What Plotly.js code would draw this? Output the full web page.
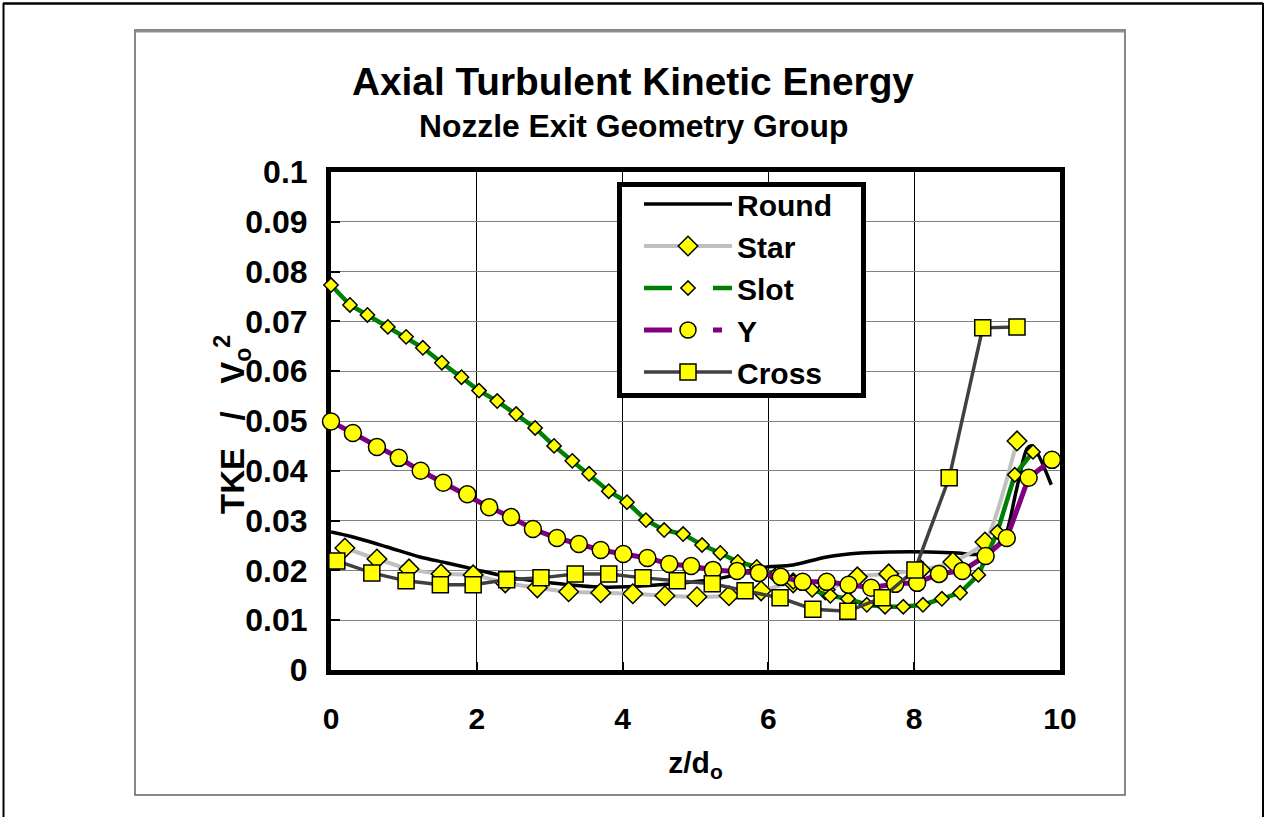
<!DOCTYPE html>
<html>
<head>
<meta charset="utf-8">
<script src="https://cdn.plot.ly/plotly-3.0.1.min.js"></script>
<style>
  html, body { margin: 0; padding: 0; background: #ffffff; }
  #chart { width: 1266px; height: 817px; }
</style>
</head>
<body>
<div id="chart"></div>
<script>
// ---- data ----
const roundX = [0, 0.3, 0.77, 1.22, 1.59, 2.0, 2.5, 3.14, 3.6, 4.06, 4.51, 4.97, 5.43, 5.88, 6.34, 6.8, 7.26, 7.7, 8.2, 8.6, 8.85, 9.1, 9.25, 9.4, 9.55, 9.62, 9.88];
const roundY = [0.0277, 0.0267, 0.0247, 0.0227, 0.0215, 0.0201, 0.0185, 0.0173, 0.0167, 0.0167, 0.0171, 0.0177, 0.0187, 0.0205, 0.0211, 0.0227, 0.0235, 0.0237, 0.0237, 0.0235, 0.0232, 0.0245, 0.0270, 0.0360, 0.0445, 0.0450, 0.0372];

const starX = [0.19, 0.63, 1.07, 1.51, 1.95, 2.39, 2.83, 3.26, 3.70, 4.14, 4.58, 5.02, 5.46, 5.90, 6.34, 6.78, 7.22, 7.65, 8.09, 8.53, 8.97, 9.41];
const starY = [0.0245, 0.0223, 0.0203, 0.0193, 0.0191, 0.0175, 0.0165, 0.0157, 0.0155, 0.0153, 0.0149, 0.0147, 0.0149, 0.0159, 0.0175, 0.0161, 0.0187, 0.0193, 0.0201, 0.0217, 0.0257, 0.0460];

const slotX = [0, 0.26, 0.50, 0.78, 1.03, 1.26, 1.52, 1.79, 2.03, 2.28, 2.54, 2.80, 3.06, 3.31, 3.54, 3.81, 4.06, 4.32, 4.57, 4.83, 5.09, 5.34, 5.58, 5.84, 6.09, 6.34, 6.60, 6.85, 7.09, 7.35, 7.60, 7.85, 8.12, 8.38, 8.63, 8.88, 9.14, 9.38, 9.63];
const slotY = [0.0773, 0.0733, 0.0713, 0.0689, 0.0669, 0.0647, 0.0617, 0.0588, 0.0561, 0.0540, 0.0514, 0.0486, 0.0450, 0.0420, 0.0394, 0.0359, 0.0337, 0.0301, 0.0281, 0.0273, 0.0251, 0.0235, 0.0217, 0.0207, 0.0190, 0.0177, 0.0161, 0.0149, 0.0143, 0.0131, 0.0127, 0.0127, 0.0131, 0.0143, 0.0155, 0.0191, 0.0277, 0.0392, 0.0438];

const yX = [0, 0.30, 0.63, 0.93, 1.23, 1.54, 1.87, 2.17, 2.47, 2.77, 3.10, 3.40, 3.70, 4.01, 4.34, 4.64, 4.94, 5.24, 5.57, 5.87, 6.17, 6.47, 6.80, 7.10, 7.41, 7.74, 8.04, 8.34, 8.66, 8.98, 9.27, 9.57, 9.89];
const yY = [0.0499, 0.0476, 0.0448, 0.0426, 0.0400, 0.0376, 0.0353, 0.0327, 0.0307, 0.0283, 0.0265, 0.0253, 0.0241, 0.0233, 0.0225, 0.0213, 0.0209, 0.0201, 0.0199, 0.0195, 0.0187, 0.0177, 0.0177, 0.0171, 0.0165, 0.0173, 0.0175, 0.0193, 0.0199, 0.0229, 0.0265, 0.0386, 0.0422];

const crossX = [0.08, 0.56, 1.03, 1.50, 1.95, 2.41, 2.88, 3.35, 3.81, 4.28, 4.75, 5.23, 5.68, 6.16, 6.61, 7.09, 7.56, 8.01, 8.48, 8.94, 9.41];
const crossY = [0.0219, 0.0195, 0.0179, 0.0171, 0.0171, 0.0181, 0.0185, 0.0193, 0.0193, 0.0185, 0.0179, 0.0173, 0.0159, 0.0145, 0.0122, 0.0118, 0.0145, 0.0201, 0.0386, 0.0687, 0.0689];

const seriesNames = ['Round', 'Star', 'Slot', 'Y', 'Cross'];
const xTickVals = [0, 2, 4, 6, 8, 10];
const yTickVals = [0, 0.01, 0.02, 0.03, 0.04, 0.05, 0.06, 0.07, 0.08, 0.09, 0.1];
const yTickText = ['0', '0.01', '0.02', '0.03', '0.04', '0.05', '0.06', '0.07', '0.08', '0.09', '0.1'];

// ---- styling ----
const FONT = 'Liberation Sans, Arial, Helvetica, sans-serif';
const YEL = '#ffff00';
const mline = {color: '#000000', width: 1.5};

const styles = [
  {mode: 'lines', line: {color: '#000000', width: 3.5, shape: 'spline', smoothing: 0.8}, legendDash: 'solid'},
  {mode: 'lines+markers', line: {color: '#c0c0c0', width: 4, shape: 'spline', smoothing: 0.6},
   marker: {symbol: 'diamond', size: 15, color: YEL, line: mline}, legendDash: 'solid'},
  {mode: 'lines+markers', line: {color: '#008000', width: 4.5},
   marker: {symbol: 'diamond', size: 11, color: YEL, line: mline}, legendDash: '28px,41px,30px'},
  {mode: 'lines+markers', line: {color: '#800080', width: 5},
   marker: {symbol: 'circle', size: 17, color: YEL, line: mline}, legendDash: '28px,41px,9px,40px'},
  {mode: 'lines+markers', line: {color: '#404040', width: 3.5},
   marker: {symbol: 'square', size: 16, color: YEL, line: mline}, legendDash: 'solid'}
];
const xs = [roundX, starX, slotX, yX, crossX];
const ys = [roundY, starY, slotY, yY, crossY];

const traces = [];
// the data traces (solid lines: in the reference, segments between markers look solid)
xs.forEach((x, i) => {
  const t = {x: x, y: ys[i], name: seriesNames[i], mode: styles[i].mode,
             line: styles[i].line, showlegend: false, cliponaxis: false};
  if (styles[i].marker) t.marker = styles[i].marker;
  traces.push(t);
});
// legend entries (same series; dashed sample lines like the reference legend)
xs.forEach((x, i) => {
  const t = {x: [null], y: [null], name: seriesNames[i], mode: styles[i].mode,
             line: Object.assign({}, styles[i].line, {dash: styles[i].legendDash, shape: 'linear'}),
             showlegend: true, hoverinfo: 'skip'};
  if (styles[i].marker) t.marker = styles[i].marker;
  traces.push(t);
});

// plot area in pixels: x 331..1060, y 172..670
const L = 331, R = 1060, T = 172, B = 670;
const W = R - L, H = B - T;
const px = v => (v - L) / W;
const py = v => (B - v) / H;

const layout = {
  width: 1266, height: 817,
  margin: {l: L, r: 1266 - R, t: T, b: 817 - B, pad: 0},
  paper_bgcolor: '#ffffff', plot_bgcolor: '#ffffff',
  font: {family: FONT, color: '#000000', weight: 'bold'},
  showlegend: true,
  legend: {
    x: px(639), y: py(178), xanchor: 'left', yanchor: 'top',
    bgcolor: 'rgba(0,0,0,0)', borderwidth: 0,
    font: {family: FONT, size: 30, color: '#000000', weight: 'bold'},
    itemwidth: 88, tracegroupgap: 0
  },
  xaxis: {
    range: [0, 10], tickvals: xTickVals, ticktext: xTickVals.map(String),
    showgrid: true, gridcolor: '#000000', gridwidth: 1,
    zeroline: false, showline: true, mirror: true, linecolor: '#000000', linewidth: 5,
    ticks: 'inside', ticklen: 8, tickwidth: 2, tickcolor: '#000000',
    tickfont: {family: FONT, size: 30, color: '#000000', weight: 'bold'},
    ticklabelstandoff: 18, layer: 'below traces',
    title: {text: 'z/d<sub>o</sub>', font: {family: FONT, size: 30, color: '#000000', weight: 'bold'}, standoff: 19}
  },
  yaxis: {
    range: [0, 0.1], tickvals: yTickVals, ticktext: yTickText,
    showgrid: true, gridcolor: '#808080', gridwidth: 1,
    zeroline: false, showline: true, mirror: true, linecolor: '#000000', linewidth: 5,
    ticks: 'inside', ticklen: 9, tickwidth: 2, tickcolor: '#000000',
    tickfont: {family: FONT, size: 32, color: '#000000', weight: 'bold'},
    ticklabelstandoff: 12, layer: 'below traces'
  },
  annotations: [
    {text: 'Axial Turbulent Kinetic Energy', xref: 'paper', yref: 'paper',
     x: px(633), y: py(82), xanchor: 'center', yanchor: 'middle', showarrow: false,
     font: {family: FONT, size: 38.8, color: '#000000', weight: 'bold'}},
    {text: 'Nozzle Exit Geometry Group', xref: 'paper', yref: 'paper',
     x: px(633), y: py(126), xanchor: 'center', yanchor: 'middle', showarrow: false,
     font: {family: FONT, size: 31.8, color: '#000000', weight: 'bold'}},
    // y-axis title
    {text: 'TKE\u00a0\u00a0\u00a0/\u00a0\u00a0\u00a0V<sub>o</sub><sup>2</sup>', xref: 'paper', yref: 'paper',
     x: px(232), y: py(425), xanchor: 'center', yanchor: 'middle', textangle: -90, showarrow: false,
     font: {family: FONT, size: 33, color: '#000000', weight: 'bold'}}
  ],
  shapes: [
    // inner chart box
    {type: 'rect', xref: 'paper', yref: 'paper', x0: px(135), x1: px(1125), y0: py(795), y1: py(30),
     line: {color: '#606060', width: 1.5}, layer: 'below'},
    {type: 'line', xref: 'paper', yref: 'paper', x0: px(135), x1: px(1125), y0: py(31.5), y1: py(31.5),
     line: {color: '#909090', width: 2}, layer: 'below'},
    // page border lines
    {type: 'line', xref: 'paper', yref: 'paper', x0: px(3), x1: px(1263), y0: py(3.5), y1: py(3.5),
     line: {color: '#000000', width: 2.5}, layer: 'below'},
    {type: 'line', xref: 'paper', yref: 'paper', x0: px(3.5), x1: px(3.5), y0: py(3), y1: py(817),
     line: {color: '#000000', width: 2}, layer: 'below'},
    {type: 'line', xref: 'paper', yref: 'paper', x0: px(1263), x1: px(1263), y0: py(3), y1: py(817),
     line: {color: '#000000', width: 2}, layer: 'below'},
    // legend box
    {type: 'rect', xref: 'paper', yref: 'paper', x0: px(619.5), x1: px(863.5), y0: py(395.5), y1: py(184.5),
     fillcolor: '#ffffff', line: {color: '#000000', width: 5}, layer: 'above'}
  ]
};

Plotly.newPlot('chart', traces, layout, {displayModeBar: false, staticPlot: true});
</script>
</body>
</html>
